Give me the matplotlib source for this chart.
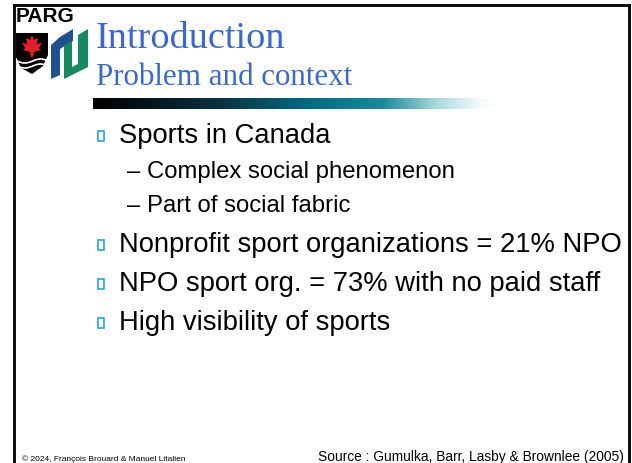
import numpy as np
import matplotlib.pyplot as plt
from matplotlib.patches import Rectangle, Polygon
from matplotlib.colors import LinearSegmentedColormap

# Slide content
title = "Introduction"
subtitle = "Problem and context"
bullets = ["Sports in Canada",
           "Nonprofit sport organizations = 21% NPO",
           "NPO sport org. = 73% with no paid staff",
           "High visibility of sports"]
sub_bullets = ["Complex social phenomenon", "Part of social fabric"]
footer_left = "\u00a9 2024, Fran\u00e7ois Brouard & Manuel Litalien"
footer_right = "Source : Gumulka, Barr, Lasby & Brownlee (2005)"

blue_title = '#3a68cf'
bullet_col = '#2a9fd6'

fig = plt.figure(figsize=(6.32, 4.64), dpi=100)
ax = fig.add_axes([0, 0, 1, 1])
ax.set_xlim(0, 632)
ax.set_ylim(464, 0)
ax.axis('off')

# frame
ax.plot([14, 14], [6, 470], color='black', lw=2, solid_capstyle='projecting')
ax.plot([14, 629], [6, 6], color='black', lw=2, solid_capstyle='projecting')
ax.plot([629, 629], [6, 470], color='black', lw=2, solid_capstyle='projecting')

# logo
ax.text(16, 22, "PARG", fontsize=15, fontweight='bold', family='Liberation Sans',
        va='baseline', ha='left')
shield = Polygon([(16, 34), (48, 34), (48, 56), (43, 67), (32, 75), (21, 69), (16, 58)],
                 closed=True, fc='black', ec='none')
ax.add_patch(shield)
leaf = Polygon([(32, 36), (34, 41), (38, 39), (37, 45), (42, 44), (39, 49), (41, 51),
                (34, 53), (33, 58), (31, 58), (30, 53), (23, 51), (25, 49), (22, 44),
                (27, 45), (26, 39), (30, 41)], closed=True, fc='#e0202a', ec='none')
ax.add_patch(leaf)
wx = np.linspace(17, 47, 30)
ax.plot(wx, 62 + 2 * np.sin((wx - 17) / 5), color='white', lw=1.2)
ax.plot(wx, 67 + 2 * np.sin((wx - 17) / 5), color='white', lw=1.2)
ax.add_patch(Polygon([(51, 46), (60, 38), (60, 76), (51, 80)], fc='#1f4f8f', ec='none'))
ax.add_patch(Polygon([(60, 38), (73, 30), (73, 42), (60, 50)], fc='#1f4f8f', ec='none'))
ax.add_patch(Polygon([(64, 46), (72, 42), (72, 70), (64, 74)], fc='#148a5e', ec='none'))
ax.add_patch(Polygon([(78, 36), (88, 30), (88, 68), (64, 80), (64, 72), (78, 65)],
                     fc='#148a5e', ec='none'))

# titles
ax.text(96, 48, title, fontsize=27.5, family='Liberation Serif', color=blue_title,
        va='baseline', ha='left')
ax.text(96, 85, subtitle, fontsize=22.3, family='Liberation Serif', color=blue_title,
        va='baseline', ha='left')

# gradient bar
grad = LinearSegmentedColormap.from_list('bar', [(0, '#000000'), (0.3, '#0b2f40'),
                                                  (0.55, '#006f85'), (0.72, '#1a8a9c'),
                                                  (0.85, '#a8d8dc'), (0.95, '#eef8fb'),
                                                  (1, '#ffffff')])
ax.imshow(np.linspace(0, 1, 256)[None, :], cmap=grad, aspect='auto',
          extent=(93, 497, 110, 99), zorder=1)

# bullets
main_y = [143, 252, 291, 330]
for txt, y in zip(bullets, main_y):
    ax.add_patch(Rectangle((98, y - 11), 6, 10, fill=False, ec=bullet_col, lw=1.2))
    ax.text(119, y, txt, fontsize=19.7, family='Liberation Sans', va='baseline', ha='left')
for txt, y in zip(sub_bullets, [178, 212]):
    ax.text(127, y, "\u2013 " + txt, fontsize=17.2, family='Liberation Sans',
            va='baseline', ha='left')

# footer
ax.text(22, 461, footer_left, fontsize=6.05, family='Liberation Sans', va='baseline')
ax.text(624, 461, footer_right, fontsize=9.9, family='Liberation Sans', va='baseline',
        ha='right')

fig.savefig('out.png', dpi=100)
